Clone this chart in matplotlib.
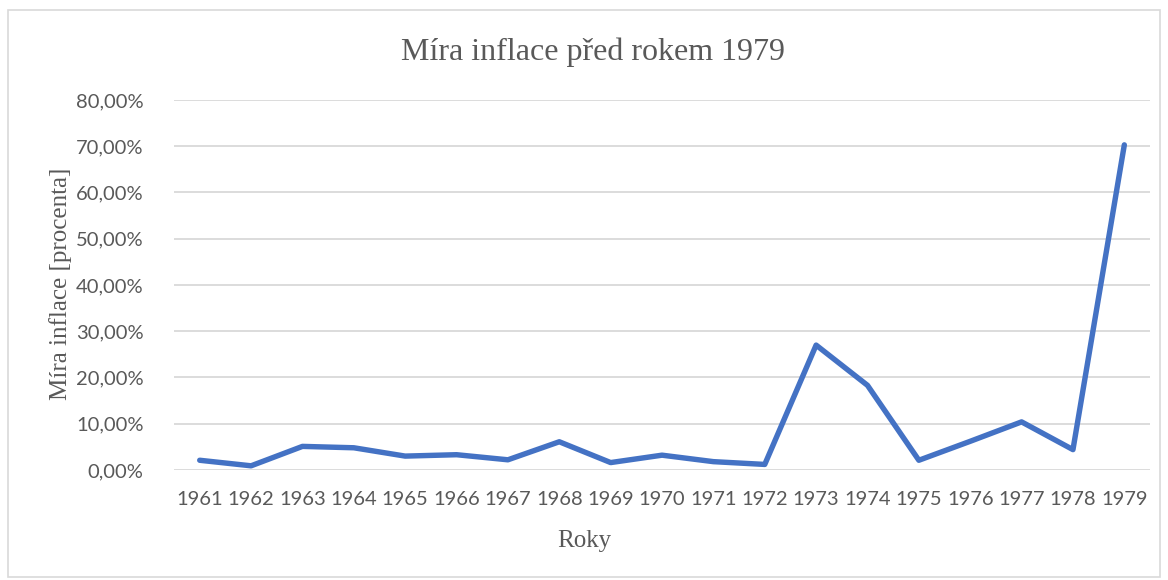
import matplotlib.pyplot as plt
from matplotlib.patches import Rectangle
from matplotlib.ticker import FuncFormatter

years = ["1961", "1962", "1963", "1964", "1965", "1966", "1967", "1968", "1969", "1970",
         "1971", "1972", "1973", "1974", "1975", "1976", "1977", "1978", "1979"]
inflation = [2.1, 0.9, 5.1, 4.8, 3.0, 3.3, 2.2, 6.1, 1.6, 3.2,
             1.8, 1.2, 27.0, 18.3, 2.1, 6.2, 10.4, 4.4, 70.3]
yticks = [0, 10, 20, 30, 40, 50, 60, 70, 80]

gray = '#595959'
fig = plt.figure(figsize=(11.68, 5.8), dpi=100)
ax = fig.add_axes([0.149, 0.1897, 0.8356, 0.6379])

x = range(len(years))
ax.plot(x, inflation, color='#4472C4', lw=3.9, solid_joinstyle='round', solid_capstyle='round')

ax.set_xlim(-0.5, len(years) - 0.5)
ax.set_ylim(0, 80)
ax.set_yticks(yticks)
ax.yaxis.set_major_formatter(FuncFormatter(lambda v, p: "{:.2f}%".format(v).replace('.', ',')))
ax.set_xticks(list(x))
ax.set_xticklabels(years)
ax.grid(axis='y', color='#D9D9D9', lw=1.3)
ax.set_axisbelow(True)
for s in ax.spines.values():
    s.set_visible(False)
ax.tick_params(length=0, labelsize=14.5, labelcolor=gray)
ax.tick_params(axis='y', pad=22)
ax.tick_params(axis='x', pad=15)
for lab in ax.get_xticklabels() + ax.get_yticklabels():
    lab.set_fontfamily('Lato')

fig.text(0.508, 0.91, "Míra inflace před rokem 1979", ha='center', va='center',
         family='Liberation Serif', fontsize=23, color=gray)
fig.text(0.5, 0.067, "Roky", ha='center', va='center',
         family='Liberation Serif', fontsize=18, color=gray)
fig.text(0.052, 0.51, "Míra inflace [procenta]", ha='center', va='center', rotation=90,
         family='Liberation Serif', fontsize=18, color=gray)

fig.patches.append(Rectangle((0.007, 0.005), 0.986, 0.978, transform=fig.transFigure,
                             fill=False, edgecolor='#D9D9D9', lw=1.2))

plt.savefig("out.png", dpi=100)
